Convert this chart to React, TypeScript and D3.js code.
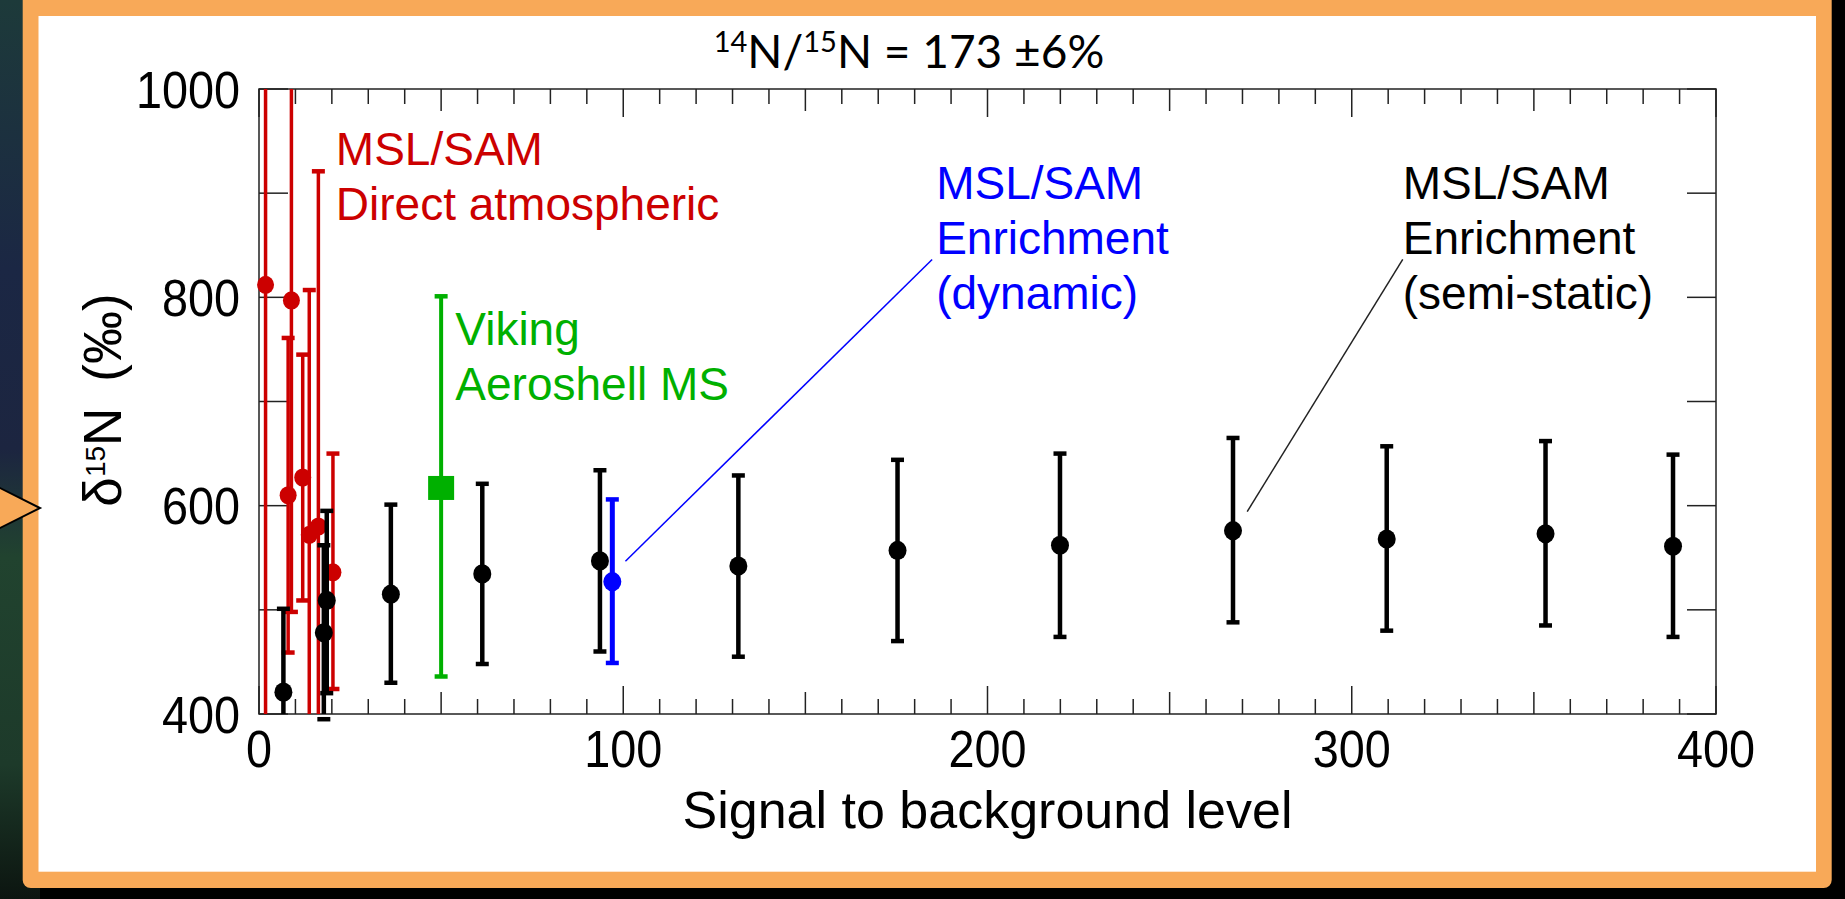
import * as d3 from "d3";

const W = 1845;
const H = 899;

// MSL/SAM enrichment, semi-static (black)
const semiX = [6.7, 17.8, 18.6, 36.2, 61.3, 93.6, 131.6, 175.3, 219.9, 267.4, 309.6, 353.2, 388.2];
const semiY = [421, 478, 509, 515, 534.5, 547, 542, 557, 562, 576, 568, 573, 561];
const semiLo = [340, 395, 420, 430, 448, 460, 455, 470, 474, 488, 480, 485, 474];
const semiHi = [501, 562, 595, 601, 621, 634, 629, 644, 650, 665, 657, 662, 649];

// MSL/SAM direct atmospheric (red)
const directX = [1.8, 8.9, 8.0, 12.0, 13.8, 16.3, 20.3];
const directY = [812, 797, 610, 627, 572, 580, 536];
const directLo = [300, 498, 459, 509, 300, 300, 424];
const directHi = [1100, 1100, 761, 745, 807, 921, 650];

// Viking aeroshell MS (green)
const vikingX = [50];
const vikingY = [617];
const vikingLo = [436];
const vikingHi = [801];

// MSL/SAM enrichment, dynamic (blue)
const dynX = [97];
const dynY = [527];
const dynLo = [449];
const dynHi = [606];

const xTickLabels = [0, 100, 200, 300, 400];
const yTickLabels = [400, 600, 800, 1000];

const RED = "#cc0000";
const GREEN = "#00b000";
const BLUE = "#0000ff";
const ORANGE = "#f8a958";
const FONT = "'Liberation Sans', Arial, Helvetica, sans-serif";

const plot = { left: 259, right: 1716, top: 89, bottom: 714 };

const x = d3.scaleLinear().domain([0, 400]).range([plot.left, plot.right]);
const y = d3.scaleLinear().domain([400, 1000]).range([plot.bottom, plot.top]);

// values beyond the axis range are drawn to the frame, without a cap
const off = (v: number) => v < 390 || v > 1010;
const clampY = (v: number) => y(Math.max(400, Math.min(1000, v)));

function ErrorBars(props: {
  xs: number[];
  lo: number[];
  hi: number[];
  color: string;
  width: number;
  cap?: number;
}) {
  const { xs, lo, hi, color, width } = props;
  const cap = props.cap ?? 6.5;
  return (
    <g stroke={color} strokeWidth={width} fill="none">
      {xs.map((d, i) => {
        const cx = x(d);
        return (
          <g key={i}>
            <line x1={cx} x2={cx} y1={clampY(lo[i])} y2={clampY(hi[i])} />
            {!off(lo[i]) && (
              <line x1={cx - cap} x2={cx + cap} y1={y(lo[i])} y2={y(lo[i])} strokeWidth={4.5} />
            )}
            {!off(hi[i]) && (
              <line x1={cx - cap} x2={cx + cap} y1={y(hi[i])} y2={y(hi[i])} strokeWidth={4.5} />
            )}
          </g>
        );
      })}
    </g>
  );
}

function Dots(props: { xs: number[]; ys: number[]; color: string; r?: number }) {
  const r = props.r ?? 9;
  return (
    <g fill={props.color}>
      {props.xs.map((d, i) => (
        <ellipse key={i} cx={x(d)} cy={y(props.ys[i])} rx={r} ry={r + 0.6} />
      ))}
    </g>
  );
}

export default function App() {
  const minor = d3.range(0, 401, 10);
  const yTicks = d3.range(400, 1001, 100);
  const tickLen = (v: number) => (v % 100 === 0 ? 28 : v % 50 === 0 ? 22 : 15);

  const lines = [
    { x1: 100.6, y1: 546.7, x2: 184.8, y2: 836.3, color: BLUE },
    { x1: 271.3, y1: 594.3, x2: 314, y2: 836.5, color: "#222" },
  ];

  return (
    <svg width={W} height={H} style={{ display: "block", position: "absolute", left: 0, top: 0 }}>
      <defs>
        <linearGradient id="space" x1="0" y1="0" x2="0" y2="1">
          <stop offset="0" stopColor="#1d3a3a" />
          <stop offset="0.3" stopColor="#1b2744" />
          <stop offset="0.5" stopColor="#1c2540" />
          <stop offset="0.62" stopColor="#21432f" />
          <stop offset="0.85" stopColor="#1d3a2a" />
          <stop offset="1" stopColor="#0c1510" />
        </linearGradient>
      </defs>
      <rect width={W} height={H} fill="#000" />
      <rect width={40} height={H} fill="url(#space)" />

      {/* slide frame */}
      <rect x={22.7} y={-10} width={1809} height={898} rx={8} fill={ORANGE} />
      <rect x={38.5} y={16} width={1777.5} height={855.7} fill="#fff" />
      <polygon points="-40,468 40,508 -40,548" fill={ORANGE} stroke="#000" strokeWidth={2} />

      {/* title */}
      <text x={909} y={68} textAnchor="middle" fontFamily="Lato, 'Open Sans', sans-serif" fontSize={46} fill="#000">
        <tspan fontSize={29} dy={-16}>14</tspan>
        <tspan dy={16}>N/</tspan>
        <tspan fontSize={29} dy={-16}>15</tspan>
        <tspan dy={16}>N = 173 ±6%</tspan>
      </text>

      {/* frame and ticks */}
      <g stroke="#222" strokeWidth={1.5}>
        <rect
          x={plot.left}
          y={plot.top}
          width={plot.right - plot.left}
          height={plot.bottom - plot.top}
          fill="none"
        />
        {minor.map((v) => (
          <g key={v}>
            <line x1={x(v)} x2={x(v)} y1={plot.bottom} y2={plot.bottom - tickLen(v)} />
            <line x1={x(v)} x2={x(v)} y1={plot.top} y2={plot.top + tickLen(v)} />
          </g>
        ))}
        {yTicks.map((v) => (
          <g key={v}>
            <line x1={plot.left} x2={plot.left + 29} y1={y(v)} y2={y(v)} />
            <line x1={plot.right} x2={plot.right - 29} y1={y(v)} y2={y(v)} />
          </g>
        ))}
      </g>

      <g fontFamily={FONT} fontSize={52} fill="#000">
        {xTickLabels.map((v) => (
          <text
            key={v}
            transform={`translate(${x(v)},767) scale(0.9,1)`}
            textAnchor="middle"
          >
            {v}
          </text>
        ))}
        {yTickLabels.map((v) => (
          <text
            key={v}
            transform={`translate(240,${y(v) + 18.5}) scale(0.9,1)`}
            textAnchor="end"
          >
            {v}
          </text>
        ))}
      </g>

      <text x={x(200)} y={828} textAnchor="middle" fontFamily={FONT} fontSize={52}>
        Signal to background level
      </text>
      <text
        transform="translate(121,400) rotate(-90)"
        textAnchor="middle"
        fontFamily={FONT}
        fontSize={53}
      >
        δ<tspan fontSize={28} dy={-16}>15</tspan>
        <tspan dy={16}>N</tspan>
        <tspan dx={26}>(‰)</tspan>
      </text>

      {/* data */}
      <ErrorBars xs={directX} lo={directLo} hi={directHi} color={RED} width={3.5} />
      <Dots xs={directX} ys={directY} color={RED} r={8.5} />

      <ErrorBars xs={vikingX} lo={vikingLo} hi={vikingHi} color={GREEN} width={4} />
      <rect
        x={x(vikingX[0]) - 13}
        y={y(vikingY[0]) - 12}
        width={26}
        height={24}
        fill={GREEN}
      />

      <ErrorBars xs={semiX} lo={semiLo} hi={semiHi} color="#000" width={4.5} />
      <Dots xs={semiX} ys={semiY} color="#000" />

      <ErrorBars xs={dynX} lo={dynLo} hi={dynHi} color={BLUE} width={5} />
      <Dots xs={dynX} ys={dynY} color={BLUE} />

      {lines.map((l, i) => (
        <line
          key={i}
          x1={x(l.x1)}
          y1={y(l.y1)}
          x2={x(l.x2)}
          y2={y(l.y2)}
          stroke={l.color}
          strokeWidth={1.5}
        />
      ))}

      {/* annotations */}
      <g fontFamily={FONT} fontSize={46}>
        <text x={x(21.1)} y={165} fill={RED}>
          <tspan>MSL/SAM</tspan>
          <tspan x={x(21.1)} dy={55}>Direct atmospheric</tspan>
        </text>
        <text x={x(53.9)} y={345} fill={GREEN}>
          <tspan>Viking</tspan>
          <tspan x={x(53.9)} dy={55}>Aeroshell MS</tspan>
        </text>
        <text x={x(185.9)} y={199} fill={BLUE}>
          <tspan>MSL/SAM</tspan>
          <tspan x={x(185.9)} dy={55}>Enrichment</tspan>
          <tspan x={x(185.9)} dy={55}>(dynamic)</tspan>
        </text>
        <text x={x(314)} y={199} fill="#000">
          <tspan>MSL/SAM</tspan>
          <tspan x={x(314)} dy={55}>Enrichment</tspan>
          <tspan x={x(314)} dy={55}>(semi-static)</tspan>
        </text>
      </g>
    </svg>
  );
}
